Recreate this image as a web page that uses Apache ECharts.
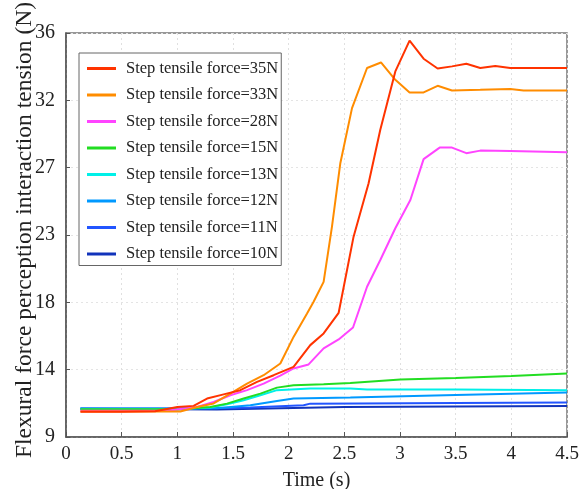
<!DOCTYPE html>
<html><head><meta charset="utf-8">
<script src="https://cdn.jsdelivr.net/npm/echarts@6/dist/echarts.min.js"></script>
<style>html,body{margin:0;padding:0;background:#fff}#c{width:580px;height:489px}</style>
</head><body><div id="c"></div>
<script>
var seriesNames = ['Step tensile force=35N','Step tensile force=33N','Step tensile force=28N','Step tensile force=15N','Step tensile force=13N','Step tensile force=12N','Step tensile force=11N','Step tensile force=10N'];
var seriesColors = ['#ff3300','#ff8c00','#ff44ff','#22dd22','#00f0e8','#0099ff','#2255ff','#1133bb'];
var yTickLabels = ['9','14','18','23','27','32','36'];
var xTickLabels = ['0','0.5','1','1.5','2','2.5','3','3.5','4','4.5'];

var s35 = [[0.13,10.68],[0.5,10.68],[0.8,10.72],[1.0,11.0],[1.146,11.08],[1.267,11.57],[1.416,11.85],[1.566,12.13],[1.716,12.68],[1.865,13.13],[2.044,13.69],[2.194,15.14],[2.314,15.92],[2.449,17.3],[2.583,22.39],[2.718,25.96],[2.823,29.53],[2.958,33.43],[3.086,35.49],[3.212,34.28],[3.338,33.63],[3.467,33.77],[3.596,33.95],[3.721,33.66],[3.856,33.8],[3.99,33.66],[4.5,33.66]];
var s33 = [[0.13,10.7],[0.8,10.7],[1.027,10.7],[1.177,11.0],[1.326,11.24],[1.476,11.9],[1.626,12.57],[1.775,13.13],[1.925,13.91],[2.044,15.69],[2.165,17.26],[2.224,18.04],[2.314,19.37],[2.389,23.06],[2.464,27.3],[2.569,30.98],[2.704,33.66],[2.829,34.03],[2.958,32.87],[3.086,32.03],[3.212,32.03],[3.338,32.47],[3.467,32.16],[3.721,32.2],[3.99,32.25],[4.11,32.16],[4.5,32.16]];
var s28 = [[0.13,10.75],[0.9,10.75],[1.177,11.0],[1.326,11.34],[1.476,11.79],[1.626,12.13],[1.775,12.57],[1.925,13.1],[2.044,13.58],[2.179,13.85],[2.314,14.92],[2.449,15.52],[2.578,16.32],[2.704,19.04],[2.823,20.83],[2.958,22.95],[3.093,24.84],[3.212,27.57],[3.356,28.34],[3.467,28.34],[3.596,27.97],[3.721,28.14],[3.99,28.12],[4.5,28.03]];
var s15 = [[0.13,10.85],[1.0,10.85],[1.296,11.0],[1.446,11.23],[1.596,11.57],[1.746,11.9],[1.895,12.3],[2.044,12.46],[2.314,12.53],[2.554,12.61],[3.003,12.84],[3.5,12.95],[4.0,13.07],[4.5,13.24]];
var s13 = [[0.13,10.85],[1.0,10.85],[1.296,10.97],[1.446,11.19],[1.596,11.46],[1.746,11.79],[1.895,12.13],[2.194,12.24],[2.554,12.24],[2.704,12.17],[3.5,12.17],[4.5,12.13]];
var s12 = [[0.13,10.9],[1.0,10.9],[1.356,10.92],[1.656,11.12],[1.895,11.41],[2.044,11.57],[2.554,11.64],[3.5,11.8],[4.5,11.97]];
var s11 = [[0.13,10.9],[1.0,10.9],[1.656,10.97],[2.134,11.12],[2.194,11.23],[3.5,11.27],[4.5,11.3]];
var s10 = [[0.13,10.88],[1.356,10.83],[2.5,11.0],[4.5,11.07]];
var allData = [s35,s33,s28,s15,s13,s12,s11,s10];

var FONT = "'Liberation Serif','Times New Roman',serif";
var chart = echarts.init(document.getElementById('c'), null, {renderer:'canvas'});
var series = allData.map(function(d,i){
  return {name: seriesNames[i], type:'line', data:d, symbol:'none', xAxisIndex:0, yAxisIndex:0,
    lineStyle:{color:seriesColors[i], width:2}, itemStyle:{color:seriesColors[i]}, z: 10-i};
});
var option = {
  animation:false,
  backgroundColor:'#fff',
  grid:{left:66, right:13, top:33, bottom:52, show:true, borderColor:'#777', borderWidth:1.5, containLabel:false, outerBoundsMode:'none'},
  legend:{
    orient:'vertical', left:79, top:53, data:seriesNames,
    backgroundColor:'#fff', borderColor:'#666', borderWidth:1,
    padding:[7,3,3,8], itemGap:9.5, itemWidth:29, itemHeight:3, icon:'rect',
    textStyle:{fontFamily:FONT, fontSize:16.5, color:'#222', padding:[0,0,0,5]}
  },
  xAxis:[{
    type:'value', min:0, max:4.5, interval:0.5,
    name:'Time (s)', nameLocation:'middle', nameGap:34, nameMoveOverlap:false,
    nameTextStyle:{fontFamily:FONT, fontSize:20, color:'#222'},
    axisLine:{show:true, lineStyle:{color:'#555', width:1.5}},
    axisTick:{show:true, inside:true, length:5, lineStyle:{color:'#555'}},
    axisLabel:{fontFamily:FONT, fontSize:19, color:'#222', margin:8,
      formatter:function(v){ var i=Math.round(v/0.5); return xTickLabels[i]; }},
    splitLine:{show:true, lineStyle:{color:'#e0e0e0', type:[2,3], width:1}}
  },{
    type:'value', min:0, max:4.5, interval:1, show:false, position:'bottom',
    splitLine:{show:true, lineStyle:{color:'#d8d8d8', width:1.5}}
  }],
  yAxis:[{
    type:'value', min:9, max:36, interval:4.5,
    name:'Flexural force perception interaction tension (N)', nameLocation:'middle', nameGap:29, nameMoveOverlap:false,
    nameTextStyle:{fontFamily:FONT, fontSize:23.5, color:'#222', padding:[0,0,0,10]},
    axisLine:{show:true, lineStyle:{color:'#555', width:1.5}},
    axisTick:{show:true, inside:true, length:4, lineStyle:{color:'#555'}},
    axisLabel:{fontFamily:FONT, fontSize:20, color:'#222', margin:11,
      formatter:function(v){ var i=Math.round((v-9)/4.5); return yTickLabels[i]; }},
    splitLine:{show:true, lineStyle:{color:'#e4e4e4', type:[2,3], width:1}}
  },{
    type:'value', min:9, max:36, interval:9, show:false,
    splitLine:{show:true, lineStyle:{color:['#d0d0d0','#888888','#d0d0d0','#d0d0d0'], width:1.2}}
  }],
  series: series
};
chart.setOption(option);
</script></body></html>
